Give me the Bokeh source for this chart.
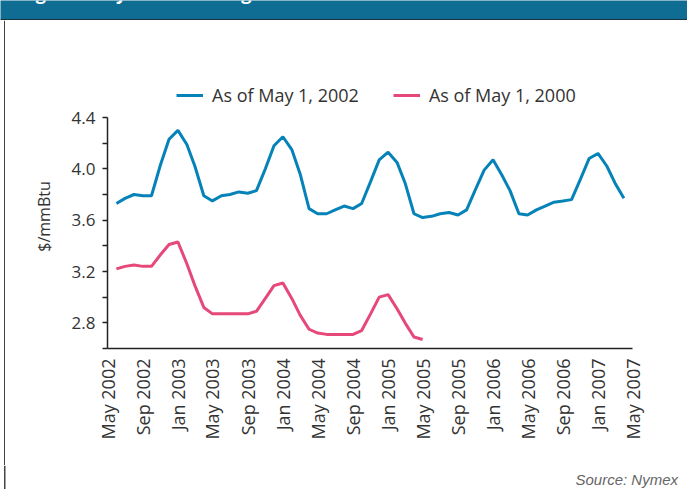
import math
import pandas as pd
from bokeh.plotting import figure
from bokeh.layouts import column, row
from bokeh.models import (Range1d, FixedTicker, NumeralTickFormatter, DatetimeTickFormatter,
                          Legend, LegendItem, BoxAnnotation, Label)
from bokeh.embed import file_html
from bokeh.resources import INLINE

# ---- data ----
months = pd.date_range("2002-05-01", "2007-05-01", freq="MS")
tick_months = months[::4]
series_2002_label = "As of May 1, 2002"
series_2000_label = "As of May 1, 2000"
# futures strip Jun 2002 .. Apr 2007
strip_2002 = [3.73, 3.77, 3.80, 3.79, 3.79, 4.03, 4.23, 4.30, 4.19, 4.02, 3.79, 3.75,
              3.79, 3.80, 3.82, 3.81, 3.83, 4.00, 4.18, 4.25, 4.15, 3.96, 3.69, 3.65,
              3.65, 3.68, 3.71, 3.69, 3.73, 3.90, 4.07, 4.13, 4.05, 3.89, 3.65, 3.62,
              3.63, 3.65, 3.66, 3.64, 3.68, 3.84, 3.99, 4.07, 3.95, 3.83, 3.65, 3.64,
              3.68, 3.71, 3.74, 3.75, 3.76, 3.92, 4.08, 4.12, 4.02, 3.89, 3.77]
# futures strip (as of 2000) plotted Jun 2002 .. May 2005
strip_2000 = [3.22, 3.24, 3.25, 3.24, 3.24, 3.33, 3.41, 3.43, 3.26, 3.09, 2.92, 2.87,
              2.87, 2.87, 2.87, 2.87, 2.89, 2.99, 3.09, 3.11, 2.99, 2.86, 2.75, 2.72,
              2.71, 2.71, 2.71, 2.71, 2.74, 2.87, 3.00, 3.02, 2.91, 2.80, 2.69, 2.67]
dates_2002 = months[1:1 + len(strip_2002)]
dates_2000 = months[1:1 + len(strip_2000)]
y_min, y_max = 2.6, 4.4
y_major = [2.8, 3.2, 3.6, 4.0, 4.4]
y_minor = [2.6, 3.0, 3.4, 3.8, 4.2]
y_label = "$/mmBtu"
header_text = "Figure 3: Nymex natural gas futures curves"
source_text = "Source: Nymex"

BLUE = "#0583B8"
PINK = "#E7487A"
TXT = "#333333"
AX = "#222222"
HEADER = "#0F6C92"

W, H = 687, 489
HEAD_H = 20
BORDER_W = 5
FOOT_H = 24
MAIN_W = W - BORDER_W
MAIN_H = H - HEAD_H - FOOT_H


def blank(width, height, bg="white"):
    f = figure(width=width, height=height, x_range=Range1d(0, 1), y_range=Range1d(0, 1),
               x_axis_location=None, y_axis_location=None, output_backend="svg",
               toolbar_location=None, min_border=0)
    f.grid.visible = False
    f.outline_line_color = None
    f.background_fill_color = bg
    f.border_fill_color = bg
    return f


def sbox(**kw):
    units = {k + "_units": "screen" for k in ("left", "right", "top", "bottom") if k in kw}
    return BoxAnnotation(fill_alpha=1, line_color=None, level="overlay", **kw, **units)


# ---- header bar (its title runs off the top of the page) ----
header = blank(W, HEAD_H, HEADER)
header.add_layout(sbox(left=0, right=W, bottom=0, top=1.5, fill_color="#17313E"))
header.add_layout(Label(x=20, y=HEAD_H + 8, x_units="screen", y_units="screen",
                        text=header_text, text_color="white", text_font="Open Sans",
                        text_font_size="18px", text_font_style="bold",
                        text_baseline="alphabetic"))

# ---- left border ----
border = blank(BORDER_W, MAIN_H)
border.add_layout(sbox(left=3.5, right=5, bottom=0, top=MAIN_H, fill_color="#444444"))

# ---- main chart ----
# page px: plot area x 107..632, y 117 (4.4) .. 348 (2.6); frame reaches up to 84 for the legend
FL, FR, FT, FB, PT = 107, 632, 84, 348, 117
px_per_unit = (FB - PT) / (y_max - y_min)
p = figure(width=MAIN_W, height=MAIN_H, x_axis_type="datetime",
           x_range=Range1d(months[0].to_pydatetime(), months[-1].to_pydatetime()),
           y_range=Range1d(y_min, y_max + (PT - FT) / px_per_unit),
           output_backend="svg", toolbar_location=None,
           min_border_left=FL - BORDER_W, min_border_right=W - FR,
           min_border_top=FT - HEAD_H, min_border_bottom=HEAD_H + MAIN_H - FB)
p.outline_line_color = None
p.grid.visible = False
p.background_fill_color = "white"
p.border_fill_color = "white"

xa = p.xaxis[0]
xa.ticker = FixedTicker(ticks=[t.value // 10**6 for t in tick_months])
xa.formatter = DatetimeTickFormatter(days="%b %Y", months="%b %Y", years="%b %Y",
                                     hours="%b %Y", minutes="%b %Y")
xa.major_label_orientation = math.pi / 2
xa.major_tick_out = 0
xa.major_tick_in = 0
xa.minor_tick_out = 0
xa.minor_tick_in = 0
xa.axis_line_color = AX
xa.axis_line_width = 1.5
xa.major_label_text_font = "Open Sans"
xa.major_label_text_font_size = "18px"
xa.major_label_text_color = TXT
xa.major_label_standoff = 10

ya = p.yaxis[0]
ya.bounds = (y_min, y_max)
ya.ticker = FixedTicker(ticks=y_major, minor_ticks=y_minor)
ya.formatter = NumeralTickFormatter(format="0.0")
ya.major_tick_out = 5
ya.major_tick_in = 0
ya.minor_tick_out = 5
ya.minor_tick_in = 0
ya.major_tick_line_color = AX
ya.minor_tick_line_color = AX
ya.major_tick_line_width = 1.5
ya.minor_tick_line_width = 1.5
ya.axis_line_color = AX
ya.axis_line_width = 1.5
ya.major_label_text_font = "Open Sans"
ya.major_label_text_font_size = "17px"
ya.major_label_text_color = TXT
ya.major_label_standoff = 7
ya.axis_label = y_label
ya.axis_label_text_font = "Open Sans"
ya.axis_label_text_font_size = "16px"
ya.axis_label_text_font_style = "normal"
ya.axis_label_text_color = TXT
ya.axis_label_standoff = 14

r1 = p.line(dates_2002, strip_2002, line_color=BLUE, line_width=3)
r2 = p.line(dates_2000, strip_2000, line_color=PINK, line_width=3)

legend = Legend(items=[LegendItem(label=series_2002_label, renderers=[r1]),
                       LegendItem(label=series_2000_label, renderers=[r2])],
                orientation="horizontal", location=(176 - FL, FB - 107),
                glyph_width=27, glyph_height=20, label_standoff=9, spacing=34,
                padding=0, margin=0, border_line_color=None, background_fill_alpha=0,
                label_text_font="Open Sans", label_text_font_size="18px",
                label_text_color=TXT, label_height=20)
p.add_layout(legend)

# ---- footer with source (full width, continues the left border) ----
footer = blank(W, FOOT_H)
footer.add_layout(sbox(left=3.5, right=5, bottom=0, top=FOOT_H, fill_color="#444444"))
footer.add_layout(Label(x=575, y=10, x_units="screen", y_units="screen",
                        text=source_text, text_color="#666666", text_font="Liberation Sans",
                        text_font_size="15px", text_font_style="italic",
                        text_align="left", text_baseline="alphabetic"))

layout = column(header, row(border, column(p, spacing=0), spacing=0), footer, spacing=0)
open("out.html", "w").write(file_html(layout, INLINE))
